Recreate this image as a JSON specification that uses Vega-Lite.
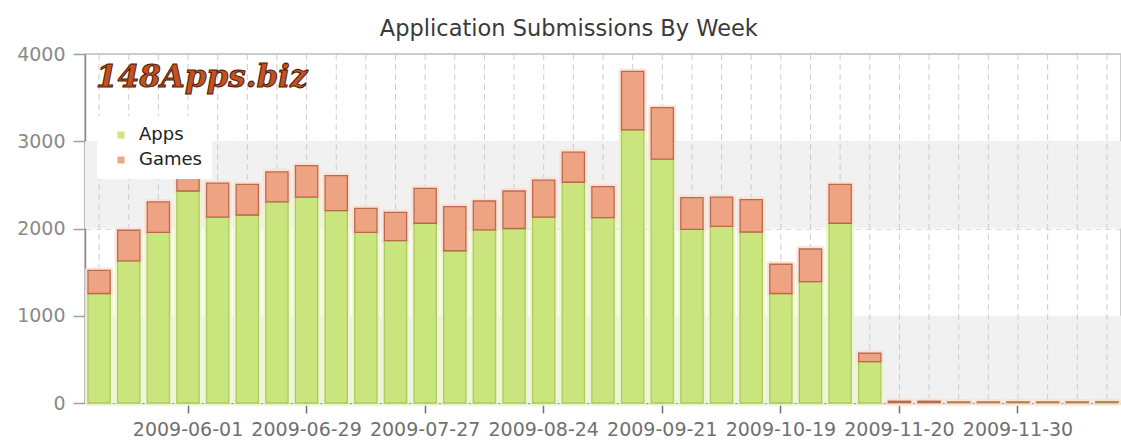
{
  "$schema": "https://vega.github.io/schema/vega-lite/v6.json",
  "width": 1036,
  "height": 349,
  "autosize": {"type": "none"},
  "padding": {"left": 85, "top": 54, "right": 0, "bottom": 39},
  "background": "white",
  "title": {
    "text": "Application Submissions By Week",
    "font": "DejaVu Sans",
    "fontSize": 22.5,
    "fontWeight": "normal",
    "color": "#3a3a3a",
    "anchor": "middle",
    "frame": "bounds",
    "offset": 5
  },
  "config": {
    "font": "DejaVu Sans",
    "view": {"stroke": "#bdbdbd", "strokeWidth": 1.5},
    "axisY": {
      "title": null,
      "labelFont": "DejaVu Sans",
      "labelFontSize": 19,
      "labelColor": "#8a8a8a",
      "labelPadding": 8,
      "tickSize": 12,
      "tickColor": "#a0a0a0",
      "tickWidth": 1.5,
      "domainColor": "#8c8c8c",
      "domainWidth": 1.5,
      "grid": true,
      "gridColor": "#cfcfcf",
      "gridDash": [6, 4],
      "gridOpacity": 0.7,
      "zindex": 1
    },
    "axisX": {
      "title": null,
      "labelFont": "DejaVu Sans",
      "labelFontSize": 19,
      "labelColor": "#707070",
      "labelPadding": 7,
      "labelAngle": 0,
      "labelOverlap": false,
      "labelFlush": false,
      "labelBound": false,
      "tickSize": 10,
      "tickColor": "#707070",
      "tickWidth": 1.5,
      "domainColor": "#8c8c8c",
      "domainWidth": 1.5,
      "grid": false
    }
  },
  "datasets": {
    "bands": [
      {"lo": 0, "hi": 1000},
      {"lo": 2000, "hi": 3000}
    ],
    "logo": [
      {"name": "148Apps.biz"}
    ],
    "weeks": [
      {"week": "2009-05-11", "series": "Apps", "count": 1255}, {"week": "2009-05-11", "series": "Games", "count": 265},
      {"week": "2009-05-18", "series": "Apps", "count": 1630}, {"week": "2009-05-18", "series": "Games", "count": 350},
      {"week": "2009-05-25", "series": "Apps", "count": 1955}, {"week": "2009-05-25", "series": "Games", "count": 350},
      {"week": "2009-06-01", "series": "Apps", "count": 2430}, {"week": "2009-06-01", "series": "Games", "count": 150},
      {"week": "2009-06-08", "series": "Apps", "count": 2130}, {"week": "2009-06-08", "series": "Games", "count": 390},
      {"week": "2009-06-15", "series": "Apps", "count": 2155}, {"week": "2009-06-15", "series": "Games", "count": 350},
      {"week": "2009-06-22", "series": "Apps", "count": 2305}, {"week": "2009-06-22", "series": "Games", "count": 345},
      {"week": "2009-06-29", "series": "Apps", "count": 2360}, {"week": "2009-06-29", "series": "Games", "count": 360},
      {"week": "2009-07-06", "series": "Apps", "count": 2205}, {"week": "2009-07-06", "series": "Games", "count": 400},
      {"week": "2009-07-13", "series": "Apps", "count": 1955}, {"week": "2009-07-13", "series": "Games", "count": 275},
      {"week": "2009-07-20", "series": "Apps", "count": 1860}, {"week": "2009-07-20", "series": "Games", "count": 325},
      {"week": "2009-07-27", "series": "Apps", "count": 2060}, {"week": "2009-07-27", "series": "Games", "count": 400},
      {"week": "2009-08-03", "series": "Apps", "count": 1745}, {"week": "2009-08-03", "series": "Games", "count": 505},
      {"week": "2009-08-10", "series": "Apps", "count": 1985}, {"week": "2009-08-10", "series": "Games", "count": 330},
      {"week": "2009-08-17", "series": "Apps", "count": 2000}, {"week": "2009-08-17", "series": "Games", "count": 430},
      {"week": "2009-08-24", "series": "Apps", "count": 2130}, {"week": "2009-08-24", "series": "Games", "count": 425},
      {"week": "2009-08-31", "series": "Apps", "count": 2530}, {"week": "2009-08-31", "series": "Games", "count": 345},
      {"week": "2009-09-07", "series": "Apps", "count": 2125}, {"week": "2009-09-07", "series": "Games", "count": 355},
      {"week": "2009-09-14", "series": "Apps", "count": 3130}, {"week": "2009-09-14", "series": "Games", "count": 670},
      {"week": "2009-09-21", "series": "Apps", "count": 2795}, {"week": "2009-09-21", "series": "Games", "count": 590},
      {"week": "2009-09-28", "series": "Apps", "count": 1990}, {"week": "2009-09-28", "series": "Games", "count": 365},
      {"week": "2009-10-05", "series": "Apps", "count": 2025}, {"week": "2009-10-05", "series": "Games", "count": 335},
      {"week": "2009-10-12", "series": "Apps", "count": 1960}, {"week": "2009-10-12", "series": "Games", "count": 370},
      {"week": "2009-10-19", "series": "Apps", "count": 1255}, {"week": "2009-10-19", "series": "Games", "count": 335},
      {"week": "2009-10-26", "series": "Apps", "count": 1390}, {"week": "2009-10-26", "series": "Games", "count": 375},
      {"week": "2009-11-02", "series": "Apps", "count": 2060}, {"week": "2009-11-02", "series": "Games", "count": 445},
      {"week": "2009-11-09", "series": "Apps", "count": 475}, {"week": "2009-11-09", "series": "Games", "count": 95},
      {"week": "2009-11-20", "series": "Apps", "count": 8}, {"week": "2009-11-20", "series": "Games", "count": 12},
      {"week": "2009-11-22", "series": "Apps", "count": 8}, {"week": "2009-11-22", "series": "Games", "count": 12},
      {"week": "2009-11-24", "series": "Apps", "count": 10}, {"week": "2009-11-24", "series": "Games", "count": 1},
      {"week": "2009-11-27", "series": "Apps", "count": 10}, {"week": "2009-11-27", "series": "Games", "count": 1},
      {"week": "2009-11-30", "series": "Apps", "count": 10}, {"week": "2009-11-30", "series": "Games", "count": 1},
      {"week": "2009-12-02", "series": "Apps", "count": 10}, {"week": "2009-12-02", "series": "Games", "count": 1},
      {"week": "2009-12-04", "series": "Apps", "count": 10}, {"week": "2009-12-04", "series": "Games", "count": 1},
      {"week": "2009-12-07", "series": "Apps", "count": 12}, {"week": "2009-12-07", "series": "Games", "count": 1}
    ]
  },
  "layer": [
    {
      "data": {"name": "bands"},
      "mark": {"type": "rect", "color": "#f1f1f1"},
      "encoding": {
        "y": {
          "field": "lo", "type": "quantitative",
          "scale": {"domain": [0, 4000], "nice": false},
          "axis": {"values": [0, 1000, 2000, 3000, 4000], "format": "d"}
        },
        "y2": {"field": "hi"}
      }
    },
    {
      "data": {"name": "weeks"},
      "transform": [{"filter": "datum.series === 'Apps'"}],
      "mark": {"type": "rule", "color": "#cdcdcd", "strokeDash": [6, 4], "strokeWidth": 1},
      "encoding": {
        "x": {
          "field": "week", "type": "nominal",
          "scale": {"paddingInner": 0.25, "paddingOuter": 0.1},
          "axis": {"values": ["2009-06-01", "2009-06-29", "2009-07-27", "2009-08-24", "2009-09-21", "2009-10-19", "2009-11-20", "2009-11-30"]}
        }
      }
    },
    {
      "data": {"name": "weeks"},
      "mark": {"type": "bar", "strokeWidth": 6, "strokeJoin": "round", "opacity": 0.85},
      "encoding": {
        "x": {"field": "week", "type": "nominal"},
        "y": {"field": "count", "type": "quantitative", "stack": "zero", "axis": {"values": [0, 1000, 2000, 3000, 4000], "format": "d"}},
        "order": {"field": "series", "sort": "ascending"},
        "fill": {"field": "series", "type": "nominal", "scale": {"domain": ["Apps", "Games"], "range": ["#edf7c6", "#fbe1d3"]}, "legend": null},
        "stroke": {"field": "series", "type": "nominal", "scale": {"domain": ["Apps", "Games"], "range": ["#edf7c6", "#fbe1d3"]}, "legend": null}
      }
    },
    {
      "data": {"name": "weeks"},
      "mark": {"type": "bar", "strokeWidth": 1.3, "opacity": 0.95},
      "encoding": {
        "x": {"field": "week", "type": "nominal"},
        "y": {"field": "count", "type": "quantitative", "stack": "zero", "axis": {"values": [0, 1000, 2000, 3000, 4000], "format": "d"}},
        "order": {"field": "series", "sort": "ascending"},
        "color": {
          "field": "series", "type": "nominal",
          "scale": {"domain": ["Apps", "Games"], "range": ["#c9e57a", "#eea07e"]},
          "legend": {
            "title": null,
            "orient": "none",
            "legendX": 12,
            "legendY": 62,
            "padding": 10,
            "fillColor": "white",
            "symbolType": "square",
            "symbolSize": 49,
            "symbolStrokeWidth": 0,
            "symbolOffset": 5,
            "labelOffset": 9,
            "labelFont": "DejaVu Sans",
            "labelFontSize": 18,
            "labelColor": "#222222",
            "rowPadding": 7
          }
        },
        "stroke": {"field": "series", "type": "nominal", "scale": {"domain": ["Apps", "Games"], "range": ["#a9c85a", "#b8644a"]}, "legend": null}
      }
    },
    {
      "data": {"name": "logo"},
      "mark": {
        "type": "text",
        "font": "DejaVu Serif",
        "fontSize": 31,
        "fontStyle": "italic",
        "fontWeight": "bold",
        "fill": "#c4521f",
        "stroke": "#4d1606",
        "strokeWidth": 1,
        "align": "left",
        "baseline": "middle",
        "dx": -3
      },
      "encoding": {
        "x": {"datum": "2009-05-11", "type": "nominal"},
        "y": {"datum": 3725, "type": "quantitative"},
        "text": {"field": "name"}
      }
    }
  ],
  "resolve": {"scale": {"color": "independent", "fill": "independent", "stroke": "independent"}}
}
